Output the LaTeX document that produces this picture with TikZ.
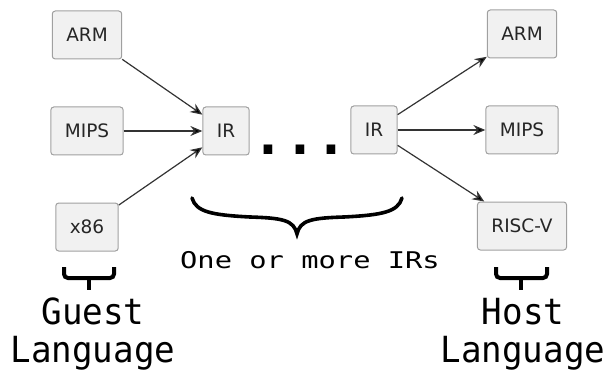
\documentclass[tikz,border=0pt]{standalone}
\usepackage{fontspec}
\setmainfont{DejaVu Sans}
\newfontfamily\codefont{DejaVu Sans Mono}
\usetikzlibrary{positioning, arrows.meta}
\definecolor{boxfill}{HTML}{F1F1F1}
\definecolor{boxline}{HTML}{A0A0A0}
\definecolor{wire}{HTML}{333333}
\tikzset{
  isa/.style={draw=boxline, fill=boxfill, rounded corners=3pt, line width=1pt,
    inner xsep=14pt, minimum height=48pt, text=black!85,
    font=\fontsize{18.5}{20}\selectfont}, % one box per ISA / IR
  flow/.style={-{Stealth[length=12pt,width=10pt,inset=4pt]}, draw=wire, line width=1.2pt},
  bigbrace/.style={line width=3.6pt, line cap=round, line join=miter},
  smallbrace/.style={line width=4pt, rounded corners=4pt},
  lang/.style={align=center, xscale=.95, font=\codefont\fontsize{36}{38}\selectfont},
}

\begin{document}
\begin{tikzpicture}[x=1pt, y=1pt, node distance=47pt]
  \useasboundingbox (0,0) rectangle (610,370);

  % guest side
  \node[isa] (gmips) at (87,239) {MIPS};
  \node[isa, above=of gmips] (garm) {ARM};
  \node[isa, below=of gmips] (gx86) {x86};

  % translation through the IRs
  \node[isa] (irin) at (226,239) {IR};
  \node[isa] (irout) at (374,240) {IR};
  \node[anchor=base, font=\codefont\bfseries\fontsize{53}{53}\selectfont] (dots) at (300,215) {...};

  % host side
  \node[isa] (hmips) at (522,240) {MIPS};
  \node[isa, above=of hmips] (harm) {ARM};
  \node[isa, below=of hmips] (hrisc) {RISC-V};

  \draw[flow] (garm) edge (irin)
              (gmips) edge (irin)
              (gx86) edge (irin);
  \draw[flow] (irout) edge (harm)
              (irout) edge (hmips)
              (irout) edge (hrisc);

  % brace under the IRs
  \draw[bigbrace] (192,172) .. controls (196,158) and (212,155) .. (250,153)
    .. controls (282,152) and (294,150) .. (297,136)
    .. controls (300,150) and (312,152) .. (344,153)
    .. controls (382,155) and (398,158) .. (402,172);
  \node[anchor=base, xscale=1.25, font=\codefont\fontsize{23}{28}\selectfont] (irs) at (310,102) {One or more IRs};

  % guest / host braces and labels
  \draw[smallbrace] (64,103) -- (64,92) -- (114,92) -- (114,103);
  \draw[line width=4pt] (89,93) -- (89,80);
  \draw[smallbrace] (496,103) -- (496,92) -- (547,92) -- (547,103);
  \draw[line width=4pt] (521,93) -- (521,80);
  \node[lang] (guest) at (93,36) {Guest\\Language};
  \node[lang] (host) at (523,36) {Host\\Language};
\end{tikzpicture}
\end{document}
